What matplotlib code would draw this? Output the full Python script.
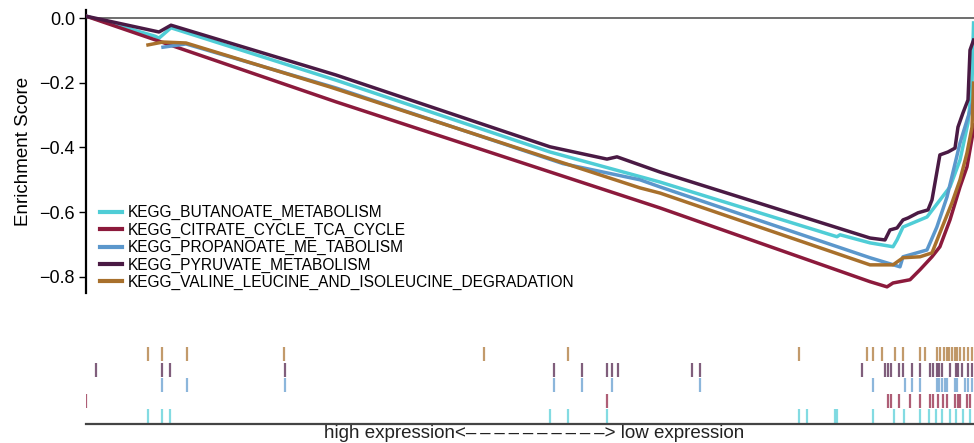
import matplotlib
matplotlib.use("Agg")
import matplotlib.pyplot as plt

plt.rcParams['font.family'] = ['Liberation Sans', 'DejaVu Sans']

N_GENES = 20000

names = ["KEGG_BUTANOATE_METABOLISM",
         "KEGG_CITRATE_CYCLE_TCA_CYCLE",
         "KEGG_PROPANOATE_ME_TABOLISM",
         "KEGG_PYRUVATE_METABOLISM",
         "KEGG_VALINE_LEUCINE_AND_ISOLEUCINE_DEGRADATION"]
colors = ["#4fcdd6", "#8c1a3c", "#5b97cc", "#4a1a44", "#a8702c"]

# running enrichment score curves (rank, ES)
buta_x = [0, 1554, 1644, 1914, 5631, 10450, 12928, 16914, 16982, 17658, 18176, 18266,
          18401, 18941, 19459, 19685, 19865, 19955, 19990]
buta_y = [0.006, -0.056, -0.062, -0.030, -0.192, -0.414, -0.507, -0.676, -0.670, -0.695,
          -0.707, -0.686, -0.646, -0.615, -0.522, -0.439, -0.324, -0.201, -0.015]

citr_x = [0, 5631, 12928, 17658, 18041, 18176, 18559, 18784, 19054, 19232, 19459,
          19685, 19842, 19977, 19990]
citr_y = [0.006, -0.259, -0.587, -0.815, -0.831, -0.819, -0.809, -0.778, -0.738, -0.707,
          -0.624, -0.522, -0.460, -0.355, -0.330]

prop_x = [1734, 2252, 5631, 10743, 12477, 12928, 17658, 18333, 18401, 18941, 19164,
          19392, 19685, 19865, 19990]
prop_y = [-0.090, -0.080, -0.216, -0.450, -0.500, -0.522, -0.741, -0.769, -0.738, -0.717,
          -0.646, -0.553, -0.386, -0.306, -0.253]

pyru_x = [0, 1644, 1914, 5631, 10450, 11734, 11959, 12928, 17658, 17995, 18108, 18266,
          18401, 18514, 18739, 18964, 19054, 19232, 19414, 19572, 19639, 19752, 19865,
          19910, 19990]
pyru_y = [0.006, -0.043, -0.022, -0.176, -0.398, -0.436, -0.429, -0.476, -0.680, -0.686,
          -0.655, -0.649, -0.624, -0.618, -0.602, -0.593, -0.562, -0.423, -0.414, -0.402,
          -0.337, -0.293, -0.253, -0.099, -0.068]

vali_x = [1396, 1734, 2252, 5495, 12477, 12928, 17658, 18176, 18401, 18784, 19054,
          19232, 19504, 19685, 19842, 19955, 19990]
vali_y = [-0.083, -0.074, -0.077, -0.213, -0.525, -0.541, -0.763, -0.763, -0.741, -0.738,
          -0.726, -0.664, -0.571, -0.500, -0.417, -0.337, -0.201]

# gene-set hit positions (rank)
buta_hits = [1396, 1712, 1892, 10449, 10855, 11733, 16057, 16237, 16867, 16913, 17723,
             18196, 18421, 18782, 18985, 19142, 19277, 19457, 19592, 19750, 19908]
citr_hits = [0, 11733, 18061, 18128, 18309, 18557, 18782, 19007, 19075, 19187, 19300,
             19390, 19570, 19637, 19682, 19840, 19908]
prop_hits = [1712, 2275, 4481, 10539, 11170, 11845, 13827, 17723, 18444, 18602, 18782,
             19165, 19210, 19277, 19345, 19390, 19570, 19615, 19795, 19863, 19953]
pyru_hits = [225, 1712, 1892, 4481, 10539, 11170, 11733, 11845, 11980, 13647, 13827,
             17476, 17993, 18061, 18128, 18309, 18399, 18602, 18782, 19007, 19075, 19165,
             19210, 19277, 19457, 19592, 19637, 19727, 19863, 19953]
vali_hits = [1396, 1712, 2275, 4459, 8963, 10855, 16057, 17588, 17723, 17926, 18219,
             18399, 18782, 18894, 19165, 19232, 19322, 19390, 19435, 19502, 19570, 19615,
             19682, 19772, 19863, 19953]

curves_x = [buta_x, citr_x, prop_x, pyru_x, vali_x]
curves_y = [buta_y, citr_y, prop_y, pyru_y, vali_y]
hits = [buta_hits, citr_hits, prop_hits, pyru_hits, vali_hits]

yticks = [0.0, -0.2, -0.4, -0.6, -0.8]

W, H = 974, 443
fig = plt.figure(figsize=(W / 100, H / 100), dpi=100)

ax = fig.add_axes([86 / W, 1 - 293 / H, (974 - 86) / W, (293 - 10) / H])
ax.axhline(0, color="#555555", lw=1.2, zorder=1)
for xs, ys, c, n in zip(curves_x, curves_y, colors, names):
    ax.plot(xs, ys, color=c, lw=2.5, label=n, solid_joinstyle="round", zorder=3)
ax.set_xlim(0, N_GENES)
ax.set_ylim(-0.85, 0.025)
ax.set_yticks(yticks)
ax.set_yticklabels(["0.0", "\u22120.2", "\u22120.4", "\u22120.6", "\u22120.8"])
ax.set_xticks([])
for s in ["top", "right", "bottom"]:
    ax.spines[s].set_visible(False)
ax.spines["left"].set_linewidth(1.6)
ax.tick_params(axis="y", labelsize=13, length=5, width=1, pad=3)
ax.set_ylabel("Enrichment Score", fontsize=13.5, labelpad=5)
ax.patch.set_alpha(0)

leg = ax.legend(loc="upper left", bbox_to_anchor=(100 / W, 1 - 205 / H),
                bbox_transform=fig.transFigure, frameon=False, fontsize=11.2,
                handlelength=1.4, handletextpad=0.4, labelspacing=0.15,
                borderpad=0, borderaxespad=0)
for l in leg.get_lines():
    l.set_linewidth(3)

rug = fig.add_axes([86 / W, 1 - 424 / H, (974 - 86) / W, (424 - 344) / H])
for i, (h, c) in enumerate(zip(hits, colors)):
    rug.vlines(h, i + 0.05, i + 0.95, color=c, lw=1.6, alpha=0.7)
rug.set_xlim(0, N_GENES)
rug.set_ylim(0, 5.15)
rug.set_xticks([])
rug.set_yticks([])
for s in ["top", "right", "left"]:
    rug.spines[s].set_visible(False)
rug.spines["bottom"].set_linewidth(1.6)
rug.spines["bottom"].set_color("#444444")

dashes = "\u2009".join(["\u2013"] * 10)
fig.text(534 / W, 1 - 433 / H, "high expression<" + dashes + "> low expression",
         ha="center", va="center", fontsize=13.5, color="#222222")

fig.savefig("out.png", dpi=100)
